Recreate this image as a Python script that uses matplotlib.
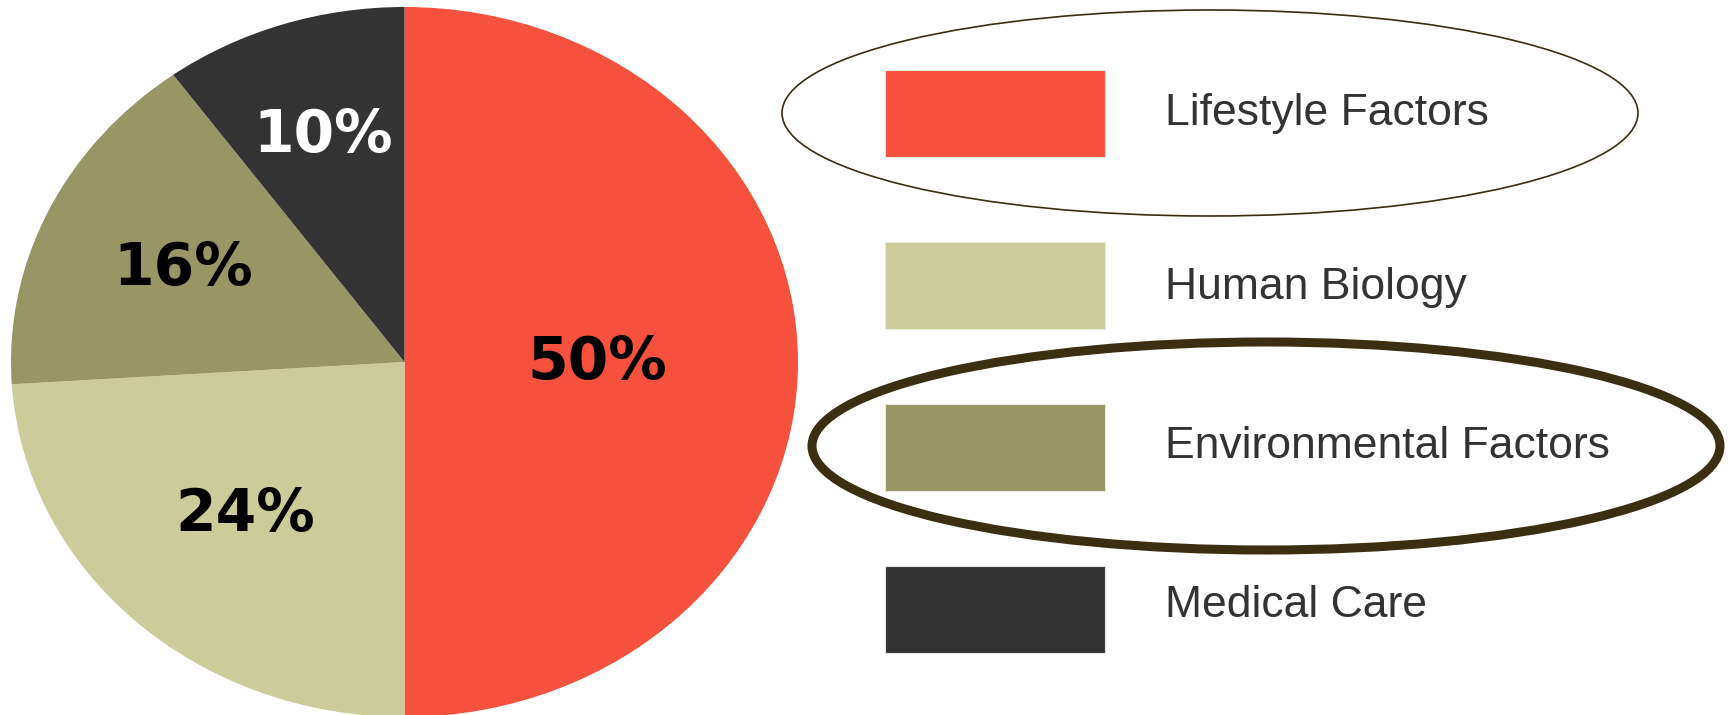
import numpy as np
import matplotlib
matplotlib.use("Agg")
import matplotlib.pyplot as plt
from matplotlib.patches import Rectangle, Ellipse

plt.rcParams.update({'font.family': ['Liberation Sans', 'DejaVu Sans']})

categories = ['Lifestyle Factors', 'Human Biology', 'Environmental Factors', 'Medical Care']
shares = [50, 24, 16, 10]
pct_labels = ['50%', '24%', '16%', '10%']
colors = ['#F5513C', '#CCCC9A', '#989664', '#333333']
label_colors = ['black', 'black', 'black', 'white']
label_radius = [0.49, 0.59, 0.62, 0.67]
circled = ['Lifestyle Factors', 'Environmental Factors']

W, H = 1733, 715
fig = plt.figure(figsize=(W / 100, H / 100), dpi=100)

# main canvas in pixel units (y down)
ax = fig.add_axes([0, 0, 1, 1])
ax.set_xlim(0, W)
ax.set_ylim(H, 0)
ax.axis('off')

# pie (slightly wider than tall, like the original)
cx, cy, rx, ry = 404.5, 362, 393.5, 355
pax = fig.add_axes([(cx - rx) / W, (H - cy - ry) / H, 2 * rx / W, 2 * ry / H])
pax.pie(shares, colors=colors, startangle=90, counterclock=False, radius=1,
        wedgeprops={'linewidth': 0})
pax.set_aspect('auto')
pax.set_xlim(-1, 1)
pax.set_ylim(-1, 1)
pax.axis('off')

start = 90.0
for val, txt, col, r in zip(shares, pct_labels, label_colors, label_radius):
    mid = np.deg2rad(start - val * 3.6 / 2)
    start -= val * 3.6
    pax.text(r * np.cos(mid), r * np.sin(mid), txt, ha='center', va='center',
             fontsize=42, fontweight='bold', color=col, family='DejaVu Sans')

# legend
rect_y = [70, 242, 404, 566]
text_base = [125, 299, 458, 617]
for name, col, y0, yb in zip(categories, colors, rect_y, text_base):
    ax.add_patch(Rectangle((885, y0), 220, 87, facecolor=col, edgecolor='#e8e8e0', linewidth=0.8))
    ax.text(1165, yb, name, fontsize=32, color='#333333', va='baseline', ha='left')

# highlight rings
ax.add_patch(Ellipse((1210, 113), 856, 206, fill=False, edgecolor='#3a2e12', linewidth=1.2))
ax.add_patch(Ellipse((1266, 446), 908, 208, fill=False, edgecolor='#3b2f12', linewidth=6.5))

fig.savefig('out.png', dpi=100)
